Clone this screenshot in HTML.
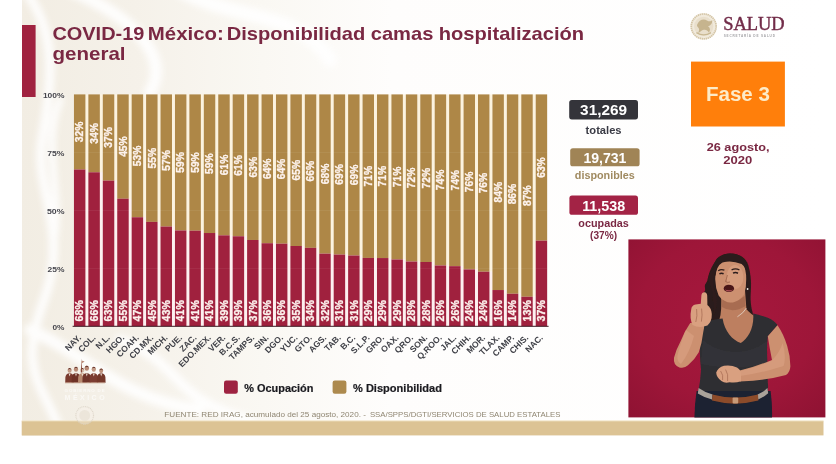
<!DOCTYPE html>
<html lang="es">
<head>
<meta charset="utf-8">
<title>COVID-19 México: Disponibilidad camas hospitalización general</title>
<style>
html,body{margin:0;padding:0;background:#fff;}
body{width:836px;height:464px;overflow:hidden;position:relative;font-family:'Liberation Sans', sans-serif;}
svg{position:absolute;left:0;top:0;display:block;}
text{font-family:'Liberation Sans', sans-serif;}
.b{font-weight:bold;}
.serif{font-family:'Liberation Serif', serif;}
</style>
</head>
<body>
<svg width="836" height="464" viewBox="0 0 836 464">
<defs>
  <filter id="blur6" x="-20%" y="-20%" width="140%" height="140%"><feGaussianBlur stdDeviation="3"/></filter>
  <filter id="blur1" x="-20%" y="-20%" width="140%" height="140%"><feGaussianBlur stdDeviation="0.6"/></filter>
  <filter id="blur05" x="-5%" y="-5%" width="110%" height="110%"><feGaussianBlur stdDeviation="0.35"/></filter>
  <radialGradient id="vbg" cx="50%" cy="45%" r="75%">
    <stop offset="0" stop-color="#a7183d"/>
    <stop offset="0.6" stop-color="#9e1639"/>
    <stop offset="1" stop-color="#8e1232"/>
  </radialGradient>
  <linearGradient id="slidebg" x1="0" y1="0" x2="1" y2="0">
    <stop offset="0" stop-color="#f2ede3"/>
    <stop offset="0.14" stop-color="#f5f1e9"/>
    <stop offset="0.30" stop-color="#faf8f3"/>
    <stop offset="0.46" stop-color="#fefdfc"/>
    <stop offset="1" stop-color="#ffffff"/>
  </linearGradient>
  <clipPath id="slideclip"><rect x="22" y="0" width="803" height="436"/></clipPath>
  <clipPath id="vidclip"><rect x="628.4" y="239.4" width="197" height="178"/></clipPath>
</defs>

<rect x="0" y="0" width="836" height="464" fill="#ffffff"/>
<rect x="22" y="0" width="803" height="436" fill="url(#slidebg)"/>
<g clip-path="url(#slideclip)" filter="url(#blur6)" fill="none" stroke="#ffffff" stroke-linecap="round" opacity="0.9">
<path d="M28 -5 C 60 40, 50 90, 42 140 S 70 230, 44 300 S 40 380, 60 430" stroke-width="9"/>
<path d="M60 100 C 40 150, 66 200, 52 250" stroke-width="7"/>
<path d="M70 -10 C 140 20, 170 60, 150 92" stroke-width="12"/>
<path d="M180 -10 C 230 20, 300 10, 330 60" stroke-width="14"/>
<path d="M30 330 C 80 350, 120 400, 200 410" stroke-width="12"/>
<path d="M120 340 C 180 360, 170 400, 250 420" stroke-width="10"/>
</g>
<rect x="21.7" y="420.8" width="801.8" height="14.6" fill="#dcc394"/><rect x="21.7" y="420.4" width="801.8" height="0.9" fill="#f6ead0"/>
<rect x="22" y="25" width="13.6" height="72" fill="#a0223f"/>
<text class="b" y="39.7" font-size="19" fill="#7a2843"><tspan x="52.4" textLength="92.0" lengthAdjust="spacingAndGlyphs">COVID-19</tspan> <tspan x="147.8" textLength="76.0" lengthAdjust="spacingAndGlyphs">México:</tspan> <tspan x="226.7" textLength="138.6" lengthAdjust="spacingAndGlyphs">Disponibilidad</tspan> <tspan x="370.7" textLength="62.7" lengthAdjust="spacingAndGlyphs">camas</tspan> <tspan x="438.8" textLength="145.3" lengthAdjust="spacingAndGlyphs">hospitalización</tspan> </text>
<text class="b" x="52.5" y="59.5" font-size="19" fill="#7a2843" textLength="73" lengthAdjust="spacingAndGlyphs">general</text>
<text class="b" x="42.9" y="97.5" font-size="8" fill="#46464d" textLength="21.6" lengthAdjust="spacingAndGlyphs">100%</text>
<text class="b" x="47.3" y="155.6" font-size="8" fill="#46464d" textLength="17.2" lengthAdjust="spacingAndGlyphs">75%</text>
<text class="b" x="46.9" y="213.7" font-size="8" fill="#46464d" textLength="17.6" lengthAdjust="spacingAndGlyphs">50%</text>
<text class="b" x="47.6" y="271.8" font-size="8" fill="#46464d" textLength="16.9" lengthAdjust="spacingAndGlyphs">25%</text>
<text class="b" x="52.5" y="329.9" font-size="8" fill="#46464d" textLength="12.0" lengthAdjust="spacingAndGlyphs">0%</text>
<g>
<rect x="85.40" y="94.4" width="2.98" height="75.10" fill="#fcf3df"/>
<rect x="85.40" y="169.50" width="2.98" height="156.70" fill="#fdf0f0"/>
<rect x="73.95" y="94.4" width="11.45" height="75.10" fill="#ae8747"/>
<rect x="73.95" y="169.50" width="11.45" height="156.70" fill="#a0213e"/>
<rect x="99.83" y="94.4" width="2.98" height="77.88" fill="#fcf3df"/>
<rect x="99.83" y="172.28" width="2.98" height="153.92" fill="#fdf0f0"/>
<rect x="88.38" y="94.4" width="11.45" height="77.88" fill="#ae8747"/>
<rect x="88.38" y="172.28" width="11.45" height="153.92" fill="#a0213e"/>
<rect x="114.26" y="94.4" width="2.98" height="86.23" fill="#fcf3df"/>
<rect x="114.26" y="180.63" width="2.98" height="145.57" fill="#fdf0f0"/>
<rect x="102.81" y="94.4" width="11.45" height="86.23" fill="#ae8747"/>
<rect x="102.81" y="180.63" width="11.45" height="145.57" fill="#a0213e"/>
<rect x="128.69" y="94.4" width="2.98" height="104.31" fill="#fcf3df"/>
<rect x="128.69" y="198.71" width="2.98" height="127.49" fill="#fdf0f0"/>
<rect x="117.24" y="94.4" width="11.45" height="104.31" fill="#ae8747"/>
<rect x="117.24" y="198.71" width="11.45" height="127.49" fill="#a0213e"/>
<rect x="143.12" y="94.4" width="2.98" height="122.85" fill="#fcf3df"/>
<rect x="143.12" y="217.25" width="2.98" height="108.95" fill="#fdf0f0"/>
<rect x="131.67" y="94.4" width="11.45" height="122.85" fill="#ae8747"/>
<rect x="131.67" y="217.25" width="11.45" height="108.95" fill="#a0213e"/>
<rect x="157.55" y="94.4" width="2.98" height="127.49" fill="#fcf3df"/>
<rect x="157.55" y="221.89" width="2.98" height="104.31" fill="#fdf0f0"/>
<rect x="146.10" y="94.4" width="11.45" height="127.49" fill="#ae8747"/>
<rect x="146.10" y="221.89" width="11.45" height="104.31" fill="#a0213e"/>
<rect x="171.98" y="94.4" width="2.98" height="132.13" fill="#fcf3df"/>
<rect x="171.98" y="226.53" width="2.98" height="99.67" fill="#fdf0f0"/>
<rect x="160.53" y="94.4" width="11.45" height="132.13" fill="#ae8747"/>
<rect x="160.53" y="226.53" width="11.45" height="99.67" fill="#a0213e"/>
<rect x="186.41" y="94.4" width="2.98" height="136.07" fill="#fcf3df"/>
<rect x="186.41" y="230.47" width="2.98" height="95.73" fill="#fdf0f0"/>
<rect x="174.96" y="94.4" width="11.45" height="136.07" fill="#ae8747"/>
<rect x="174.96" y="230.47" width="11.45" height="95.73" fill="#a0213e"/>
<rect x="200.84" y="94.4" width="2.98" height="136.30" fill="#fcf3df"/>
<rect x="200.84" y="230.70" width="2.98" height="95.50" fill="#fdf0f0"/>
<rect x="189.39" y="94.4" width="11.45" height="136.30" fill="#ae8747"/>
<rect x="189.39" y="230.70" width="11.45" height="95.50" fill="#a0213e"/>
<rect x="215.27" y="94.4" width="2.98" height="138.62" fill="#fcf3df"/>
<rect x="215.27" y="233.02" width="2.98" height="93.18" fill="#fdf0f0"/>
<rect x="203.82" y="94.4" width="11.45" height="138.62" fill="#ae8747"/>
<rect x="203.82" y="233.02" width="11.45" height="93.18" fill="#a0213e"/>
<rect x="229.70" y="94.4" width="2.98" height="140.93" fill="#fcf3df"/>
<rect x="229.70" y="235.33" width="2.98" height="90.87" fill="#fdf0f0"/>
<rect x="218.25" y="94.4" width="11.45" height="140.93" fill="#ae8747"/>
<rect x="218.25" y="235.33" width="11.45" height="90.87" fill="#a0213e"/>
<rect x="244.13" y="94.4" width="2.98" height="141.86" fill="#fcf3df"/>
<rect x="244.13" y="236.26" width="2.98" height="89.94" fill="#fdf0f0"/>
<rect x="232.68" y="94.4" width="11.45" height="141.86" fill="#ae8747"/>
<rect x="232.68" y="236.26" width="11.45" height="89.94" fill="#a0213e"/>
<rect x="258.56" y="94.4" width="2.98" height="145.57" fill="#fcf3df"/>
<rect x="258.56" y="239.97" width="2.98" height="86.23" fill="#fdf0f0"/>
<rect x="247.11" y="94.4" width="11.45" height="145.57" fill="#ae8747"/>
<rect x="247.11" y="239.97" width="11.45" height="86.23" fill="#a0213e"/>
<rect x="272.99" y="94.4" width="2.98" height="148.82" fill="#fcf3df"/>
<rect x="272.99" y="243.22" width="2.98" height="82.98" fill="#fdf0f0"/>
<rect x="261.54" y="94.4" width="11.45" height="148.82" fill="#ae8747"/>
<rect x="261.54" y="243.22" width="11.45" height="82.98" fill="#a0213e"/>
<rect x="287.42" y="94.4" width="2.98" height="149.28" fill="#fcf3df"/>
<rect x="287.42" y="243.68" width="2.98" height="82.52" fill="#fdf0f0"/>
<rect x="275.97" y="94.4" width="11.45" height="149.28" fill="#ae8747"/>
<rect x="275.97" y="243.68" width="11.45" height="82.52" fill="#a0213e"/>
<rect x="301.85" y="94.4" width="2.98" height="151.60" fill="#fcf3df"/>
<rect x="301.85" y="246.00" width="2.98" height="80.20" fill="#fdf0f0"/>
<rect x="290.40" y="94.4" width="11.45" height="151.60" fill="#ae8747"/>
<rect x="290.40" y="246.00" width="11.45" height="80.20" fill="#a0213e"/>
<rect x="316.28" y="94.4" width="2.98" height="153.45" fill="#fcf3df"/>
<rect x="316.28" y="247.85" width="2.98" height="78.35" fill="#fdf0f0"/>
<rect x="304.83" y="94.4" width="11.45" height="153.45" fill="#ae8747"/>
<rect x="304.83" y="247.85" width="11.45" height="78.35" fill="#a0213e"/>
<rect x="330.71" y="94.4" width="2.98" height="159.25" fill="#fcf3df"/>
<rect x="330.71" y="253.65" width="2.98" height="72.55" fill="#fdf0f0"/>
<rect x="319.26" y="94.4" width="11.45" height="159.25" fill="#ae8747"/>
<rect x="319.26" y="253.65" width="11.45" height="72.55" fill="#a0213e"/>
<rect x="345.14" y="94.4" width="2.98" height="160.17" fill="#fcf3df"/>
<rect x="345.14" y="254.57" width="2.98" height="71.63" fill="#fdf0f0"/>
<rect x="333.69" y="94.4" width="11.45" height="160.17" fill="#ae8747"/>
<rect x="333.69" y="254.57" width="11.45" height="71.63" fill="#a0213e"/>
<rect x="359.57" y="94.4" width="2.98" height="161.10" fill="#fcf3df"/>
<rect x="359.57" y="255.50" width="2.98" height="70.70" fill="#fdf0f0"/>
<rect x="348.12" y="94.4" width="11.45" height="161.10" fill="#ae8747"/>
<rect x="348.12" y="255.50" width="11.45" height="70.70" fill="#a0213e"/>
<rect x="374.00" y="94.4" width="2.98" height="163.53" fill="#fcf3df"/>
<rect x="374.00" y="257.93" width="2.98" height="68.27" fill="#fdf0f0"/>
<rect x="362.55" y="94.4" width="11.45" height="163.53" fill="#ae8747"/>
<rect x="362.55" y="257.93" width="11.45" height="68.27" fill="#a0213e"/>
<rect x="388.43" y="94.4" width="2.98" height="163.65" fill="#fcf3df"/>
<rect x="388.43" y="258.05" width="2.98" height="68.15" fill="#fdf0f0"/>
<rect x="376.98" y="94.4" width="11.45" height="163.65" fill="#ae8747"/>
<rect x="376.98" y="258.05" width="11.45" height="68.15" fill="#a0213e"/>
<rect x="402.86" y="94.4" width="2.98" height="165.04" fill="#fcf3df"/>
<rect x="402.86" y="259.44" width="2.98" height="66.76" fill="#fdf0f0"/>
<rect x="391.41" y="94.4" width="11.45" height="165.04" fill="#ae8747"/>
<rect x="391.41" y="259.44" width="11.45" height="66.76" fill="#a0213e"/>
<rect x="417.29" y="94.4" width="2.98" height="167.13" fill="#fcf3df"/>
<rect x="417.29" y="261.53" width="2.98" height="64.67" fill="#fdf0f0"/>
<rect x="405.84" y="94.4" width="11.45" height="167.13" fill="#ae8747"/>
<rect x="405.84" y="261.53" width="11.45" height="64.67" fill="#a0213e"/>
<rect x="431.72" y="94.4" width="2.98" height="167.59" fill="#fcf3df"/>
<rect x="431.72" y="261.99" width="2.98" height="64.21" fill="#fdf0f0"/>
<rect x="420.27" y="94.4" width="11.45" height="167.59" fill="#ae8747"/>
<rect x="420.27" y="261.99" width="11.45" height="64.21" fill="#a0213e"/>
<rect x="446.15" y="94.4" width="2.98" height="171.07" fill="#fcf3df"/>
<rect x="446.15" y="265.47" width="2.98" height="60.73" fill="#fdf0f0"/>
<rect x="434.70" y="94.4" width="11.45" height="171.07" fill="#ae8747"/>
<rect x="434.70" y="265.47" width="11.45" height="60.73" fill="#a0213e"/>
<rect x="460.58" y="94.4" width="2.98" height="171.76" fill="#fcf3df"/>
<rect x="460.58" y="266.16" width="2.98" height="60.04" fill="#fdf0f0"/>
<rect x="449.13" y="94.4" width="11.45" height="171.76" fill="#ae8747"/>
<rect x="449.13" y="266.16" width="11.45" height="60.04" fill="#a0213e"/>
<rect x="475.01" y="94.4" width="2.98" height="175.01" fill="#fcf3df"/>
<rect x="475.01" y="269.41" width="2.98" height="56.79" fill="#fdf0f0"/>
<rect x="463.56" y="94.4" width="11.45" height="175.01" fill="#ae8747"/>
<rect x="463.56" y="269.41" width="11.45" height="56.79" fill="#a0213e"/>
<rect x="489.44" y="94.4" width="2.98" height="177.33" fill="#fcf3df"/>
<rect x="489.44" y="271.73" width="2.98" height="54.47" fill="#fdf0f0"/>
<rect x="477.99" y="94.4" width="11.45" height="177.33" fill="#ae8747"/>
<rect x="477.99" y="271.73" width="11.45" height="54.47" fill="#a0213e"/>
<rect x="503.87" y="94.4" width="2.98" height="195.64" fill="#fcf3df"/>
<rect x="503.87" y="290.04" width="2.98" height="36.16" fill="#fdf0f0"/>
<rect x="492.42" y="94.4" width="11.45" height="195.64" fill="#ae8747"/>
<rect x="492.42" y="290.04" width="11.45" height="36.16" fill="#a0213e"/>
<rect x="518.30" y="94.4" width="2.98" height="199.35" fill="#fcf3df"/>
<rect x="518.30" y="293.75" width="2.98" height="32.45" fill="#fdf0f0"/>
<rect x="506.85" y="94.4" width="11.45" height="199.35" fill="#ae8747"/>
<rect x="506.85" y="293.75" width="11.45" height="32.45" fill="#a0213e"/>
<rect x="532.73" y="94.4" width="2.98" height="202.36" fill="#fcf3df"/>
<rect x="532.73" y="296.76" width="2.98" height="29.44" fill="#fdf0f0"/>
<rect x="521.28" y="94.4" width="11.45" height="202.36" fill="#ae8747"/>
<rect x="521.28" y="296.76" width="11.45" height="29.44" fill="#a0213e"/>
<rect x="535.71" y="94.4" width="11.45" height="146.27" fill="#ae8747"/>
<rect x="535.71" y="240.67" width="11.45" height="85.53" fill="#a0213e"/>
</g>
<rect x="72.6" y="325.8" width="476" height="1.0" fill="#3c1a24"/>
<rect x="73.9" y="152.05" width="473" height="0.6" fill="#ffffff" opacity="0.10"/>
<rect x="73.9" y="210.00" width="473" height="0.6" fill="#ffffff" opacity="0.10"/>
<rect x="73.9" y="267.95" width="473" height="0.6" fill="#ffffff" opacity="0.10"/>
<g class="b" font-size="10" fill="#fdf3ee" stroke="#fdf3ee" stroke-width="0.32">
<text transform="translate(83.38 321.4) rotate(-90)" textLength="21.2" lengthAdjust="spacingAndGlyphs">68%</text>
<text transform="translate(83.38 131.95) rotate(-90)" text-anchor="middle" textLength="20.6" lengthAdjust="spacingAndGlyphs">32%</text>
<text transform="translate(97.80 321.4) rotate(-90)" textLength="21.2" lengthAdjust="spacingAndGlyphs">66%</text>
<text transform="translate(97.80 133.34) rotate(-90)" text-anchor="middle" textLength="20.6" lengthAdjust="spacingAndGlyphs">34%</text>
<text transform="translate(112.23 321.4) rotate(-90)" textLength="21.2" lengthAdjust="spacingAndGlyphs">63%</text>
<text transform="translate(112.23 137.51) rotate(-90)" text-anchor="middle" textLength="20.6" lengthAdjust="spacingAndGlyphs">37%</text>
<text transform="translate(126.67 321.4) rotate(-90)" textLength="21.2" lengthAdjust="spacingAndGlyphs">55%</text>
<text transform="translate(126.67 146.56) rotate(-90)" text-anchor="middle" textLength="20.6" lengthAdjust="spacingAndGlyphs">45%</text>
<text transform="translate(141.09 321.4) rotate(-90)" textLength="21.2" lengthAdjust="spacingAndGlyphs">47%</text>
<text transform="translate(141.09 155.83) rotate(-90)" text-anchor="middle" textLength="20.6" lengthAdjust="spacingAndGlyphs">53%</text>
<text transform="translate(155.53 321.4) rotate(-90)" textLength="21.2" lengthAdjust="spacingAndGlyphs">45%</text>
<text transform="translate(155.53 158.14) rotate(-90)" text-anchor="middle" textLength="20.6" lengthAdjust="spacingAndGlyphs">55%</text>
<text transform="translate(169.95 321.4) rotate(-90)" textLength="21.2" lengthAdjust="spacingAndGlyphs">43%</text>
<text transform="translate(169.95 160.46) rotate(-90)" text-anchor="middle" textLength="20.6" lengthAdjust="spacingAndGlyphs">57%</text>
<text transform="translate(184.38 321.4) rotate(-90)" textLength="21.2" lengthAdjust="spacingAndGlyphs">41%</text>
<text transform="translate(184.38 162.43) rotate(-90)" text-anchor="middle" textLength="20.6" lengthAdjust="spacingAndGlyphs">59%</text>
<text transform="translate(198.81 321.4) rotate(-90)" textLength="21.2" lengthAdjust="spacingAndGlyphs">41%</text>
<text transform="translate(198.81 162.55) rotate(-90)" text-anchor="middle" textLength="20.6" lengthAdjust="spacingAndGlyphs">59%</text>
<text transform="translate(213.24 321.4) rotate(-90)" textLength="21.2" lengthAdjust="spacingAndGlyphs">41%</text>
<text transform="translate(213.24 163.71) rotate(-90)" text-anchor="middle" textLength="20.6" lengthAdjust="spacingAndGlyphs">59%</text>
<text transform="translate(227.67 321.4) rotate(-90)" textLength="21.2" lengthAdjust="spacingAndGlyphs">39%</text>
<text transform="translate(227.67 164.87) rotate(-90)" text-anchor="middle" textLength="20.6" lengthAdjust="spacingAndGlyphs">61%</text>
<text transform="translate(242.10 321.4) rotate(-90)" textLength="21.2" lengthAdjust="spacingAndGlyphs">39%</text>
<text transform="translate(242.10 165.33) rotate(-90)" text-anchor="middle" textLength="20.6" lengthAdjust="spacingAndGlyphs">61%</text>
<text transform="translate(256.54 321.4) rotate(-90)" textLength="21.2" lengthAdjust="spacingAndGlyphs">37%</text>
<text transform="translate(256.54 167.19) rotate(-90)" text-anchor="middle" textLength="20.6" lengthAdjust="spacingAndGlyphs">63%</text>
<text transform="translate(270.97 321.4) rotate(-90)" textLength="21.2" lengthAdjust="spacingAndGlyphs">36%</text>
<text transform="translate(270.97 168.81) rotate(-90)" text-anchor="middle" textLength="20.6" lengthAdjust="spacingAndGlyphs">64%</text>
<text transform="translate(285.39 321.4) rotate(-90)" textLength="21.2" lengthAdjust="spacingAndGlyphs">36%</text>
<text transform="translate(285.39 169.04) rotate(-90)" text-anchor="middle" textLength="20.6" lengthAdjust="spacingAndGlyphs">64%</text>
<text transform="translate(299.82 321.4) rotate(-90)" textLength="21.2" lengthAdjust="spacingAndGlyphs">35%</text>
<text transform="translate(299.82 170.20) rotate(-90)" text-anchor="middle" textLength="20.6" lengthAdjust="spacingAndGlyphs">65%</text>
<text transform="translate(314.25 321.4) rotate(-90)" textLength="21.2" lengthAdjust="spacingAndGlyphs">34%</text>
<text transform="translate(314.25 171.13) rotate(-90)" text-anchor="middle" textLength="20.6" lengthAdjust="spacingAndGlyphs">66%</text>
<text transform="translate(328.69 321.4) rotate(-90)" textLength="21.2" lengthAdjust="spacingAndGlyphs">32%</text>
<text transform="translate(328.69 174.02) rotate(-90)" text-anchor="middle" textLength="20.6" lengthAdjust="spacingAndGlyphs">68%</text>
<text transform="translate(343.12 321.4) rotate(-90)" textLength="21.2" lengthAdjust="spacingAndGlyphs">31%</text>
<text transform="translate(343.12 174.49) rotate(-90)" text-anchor="middle" textLength="20.6" lengthAdjust="spacingAndGlyphs">69%</text>
<text transform="translate(357.55 321.4) rotate(-90)" textLength="21.2" lengthAdjust="spacingAndGlyphs">31%</text>
<text transform="translate(357.55 174.95) rotate(-90)" text-anchor="middle" textLength="20.6" lengthAdjust="spacingAndGlyphs">69%</text>
<text transform="translate(371.98 321.4) rotate(-90)" textLength="21.2" lengthAdjust="spacingAndGlyphs">29%</text>
<text transform="translate(371.98 176.17) rotate(-90)" text-anchor="middle" textLength="20.6" lengthAdjust="spacingAndGlyphs">71%</text>
<text transform="translate(386.40 321.4) rotate(-90)" textLength="21.2" lengthAdjust="spacingAndGlyphs">29%</text>
<text transform="translate(386.40 176.23) rotate(-90)" text-anchor="middle" textLength="20.6" lengthAdjust="spacingAndGlyphs">71%</text>
<text transform="translate(400.83 321.4) rotate(-90)" textLength="21.2" lengthAdjust="spacingAndGlyphs">29%</text>
<text transform="translate(400.83 176.92) rotate(-90)" text-anchor="middle" textLength="20.6" lengthAdjust="spacingAndGlyphs">71%</text>
<text transform="translate(415.26 321.4) rotate(-90)" textLength="21.2" lengthAdjust="spacingAndGlyphs">28%</text>
<text transform="translate(415.26 177.96) rotate(-90)" text-anchor="middle" textLength="20.6" lengthAdjust="spacingAndGlyphs">72%</text>
<text transform="translate(429.69 321.4) rotate(-90)" textLength="21.2" lengthAdjust="spacingAndGlyphs">28%</text>
<text transform="translate(429.69 178.20) rotate(-90)" text-anchor="middle" textLength="20.6" lengthAdjust="spacingAndGlyphs">72%</text>
<text transform="translate(444.12 321.4) rotate(-90)" textLength="21.2" lengthAdjust="spacingAndGlyphs">26%</text>
<text transform="translate(444.12 179.93) rotate(-90)" text-anchor="middle" textLength="20.6" lengthAdjust="spacingAndGlyphs">74%</text>
<text transform="translate(458.56 321.4) rotate(-90)" textLength="21.2" lengthAdjust="spacingAndGlyphs">26%</text>
<text transform="translate(458.56 180.28) rotate(-90)" text-anchor="middle" textLength="20.6" lengthAdjust="spacingAndGlyphs">74%</text>
<text transform="translate(472.99 321.4) rotate(-90)" textLength="21.2" lengthAdjust="spacingAndGlyphs">24%</text>
<text transform="translate(472.99 181.90) rotate(-90)" text-anchor="middle" textLength="20.6" lengthAdjust="spacingAndGlyphs">76%</text>
<text transform="translate(487.41 321.4) rotate(-90)" textLength="21.2" lengthAdjust="spacingAndGlyphs">24%</text>
<text transform="translate(487.41 183.06) rotate(-90)" text-anchor="middle" textLength="20.6" lengthAdjust="spacingAndGlyphs">76%</text>
<text transform="translate(501.84 321.4) rotate(-90)" textLength="21.2" lengthAdjust="spacingAndGlyphs">16%</text>
<text transform="translate(501.84 192.22) rotate(-90)" text-anchor="middle" textLength="20.6" lengthAdjust="spacingAndGlyphs">84%</text>
<text transform="translate(516.27 321.4) rotate(-90)" textLength="21.2" lengthAdjust="spacingAndGlyphs">14%</text>
<text transform="translate(516.27 194.07) rotate(-90)" text-anchor="middle" textLength="20.6" lengthAdjust="spacingAndGlyphs">86%</text>
<text transform="translate(530.71 321.4) rotate(-90)" textLength="21.2" lengthAdjust="spacingAndGlyphs">13%</text>
<text transform="translate(530.71 195.58) rotate(-90)" text-anchor="middle" textLength="20.6" lengthAdjust="spacingAndGlyphs">87%</text>
<text transform="translate(545.14 321.4) rotate(-90)" textLength="21.2" lengthAdjust="spacingAndGlyphs">37%</text>
<text transform="translate(545.14 167.53) rotate(-90)" text-anchor="middle" textLength="20.6" lengthAdjust="spacingAndGlyphs">63%</text>
</g>
<g class="b" font-size="8.55" fill="#3f4047" text-anchor="end">
<text transform="translate(81.67 338.2) rotate(-45) scale(1.0 1)">NAY.</text>
<text transform="translate(96.10 338.2) rotate(-45) scale(1.0 1)">COL.</text>
<text transform="translate(110.53 338.2) rotate(-45) scale(1.0 1)">N.L.</text>
<text transform="translate(124.97 338.2) rotate(-45) scale(1.0 1)">HGO.</text>
<text transform="translate(139.40 338.2) rotate(-45) scale(1.0 1)">COAH.</text>
<text transform="translate(153.83 338.2) rotate(-45) scale(1.0 1)">CD.MX.</text>
<text transform="translate(168.25 338.2) rotate(-45) scale(1.0 1)">MICH.</text>
<text transform="translate(182.68 338.2) rotate(-45) scale(1.0 1)">PUE.</text>
<text transform="translate(197.11 338.2) rotate(-45) scale(1.0 1)">ZAC.</text>
<text transform="translate(211.54 338.2) rotate(-45) scale(1.0 1)">EDO.MEX.</text>
<text transform="translate(225.97 338.2) rotate(-45) scale(1.0 1)">VER.</text>
<text transform="translate(240.41 338.2) rotate(-45) scale(1.0 1)">B.C.S.</text>
<text transform="translate(254.84 338.2) rotate(-45) scale(1.0 1)">TAMPS.</text>
<text transform="translate(269.27 338.2) rotate(-45) scale(1.0 1)">SIN.</text>
<text transform="translate(283.69 338.2) rotate(-45) scale(1.0 1)">DGO.</text>
<text transform="translate(298.12 338.2) rotate(-45) scale(1.0 1)">YUC.</text>
<text transform="translate(312.56 338.2) rotate(-45) scale(1.0 1)">GTO.</text>
<text transform="translate(326.99 338.2) rotate(-45) scale(1.0 1)">AGS.</text>
<text transform="translate(341.42 338.2) rotate(-45) scale(1.0 1)">TAB.</text>
<text transform="translate(355.85 338.2) rotate(-45) scale(1.0 1)">B.C.</text>
<text transform="translate(370.28 338.2) rotate(-45) scale(1.0 1)">S.L.P.</text>
<text transform="translate(384.70 338.2) rotate(-45) scale(1.0 1)">GRO.</text>
<text transform="translate(399.13 338.2) rotate(-45) scale(1.0 1)">OAX.</text>
<text transform="translate(413.56 338.2) rotate(-45) scale(1.0 1)">QRO.</text>
<text transform="translate(428.00 338.2) rotate(-45) scale(1.0 1)">SON.</text>
<text transform="translate(442.43 338.2) rotate(-45) scale(1.0 1)">Q.ROO.</text>
<text transform="translate(456.86 338.2) rotate(-45) scale(1.0 1)">JAL.</text>
<text transform="translate(471.29 338.2) rotate(-45) scale(1.0 1)">CHIH.</text>
<text transform="translate(485.71 338.2) rotate(-45) scale(1.0 1)">MOR.</text>
<text transform="translate(500.14 338.2) rotate(-45) scale(1.0 1)">TLAX.</text>
<text transform="translate(514.57 338.2) rotate(-45) scale(1.0 1)">CAMP.</text>
<text transform="translate(529.00 338.2) rotate(-45) scale(1.0 1)">CHIS.</text>
<text transform="translate(543.44 338.2) rotate(-45) scale(1.0 1)">NAC.</text>
</g>
<rect x="224" y="380.5" width="13.8" height="13.3" rx="2.2" fill="#9e2341"/>
<text class="b" x="244.2" y="392" font-size="10.8" fill="#1a1a1f" stroke="#1a1a1f" stroke-width="0.2" textLength="69.3" lengthAdjust="spacingAndGlyphs">% Ocupación</text>
<rect x="332.6" y="380.5" width="13.8" height="13.3" rx="2.2" fill="#ad8a4e"/>
<text class="b" x="353" y="392" font-size="10.8" fill="#1a1a1f" stroke="#1a1a1f" stroke-width="0.2" textLength="89" lengthAdjust="spacingAndGlyphs">% Disponibilidad</text>
<text y="416.8" font-size="7.7" fill="#8f8672"><tspan x="164.3" textLength="201.6" lengthAdjust="spacingAndGlyphs">FUENTE: RED IRAG, acumulado del 25 agosto, 2020. -</tspan> <tspan x="369.9" textLength="190.5" lengthAdjust="spacingAndGlyphs">SSA/SPPS/DGTI/SERVICIOS DE SALUD ESTATALES</tspan></text>
<rect x="569.2" y="100.1" width="68.8" height="19.3" rx="2.6" fill="#34343a"/>
<text class="b" x="603.6" y="115.0" font-size="15.2" fill="#ffffff" text-anchor="middle" textLength="47" lengthAdjust="spacingAndGlyphs">31,269</text>
<text class="b" x="603.6" y="133.9" font-size="10.2" fill="#3a3b45" text-anchor="middle" textLength="36" lengthAdjust="spacingAndGlyphs">totales</text>
<rect x="570.2" y="148.2" width="69.4" height="18.1" rx="2.6" fill="#a08456"/>
<text class="b" x="604.9" y="162.6" font-size="15.2" fill="#ffffff" text-anchor="middle" textLength="43" lengthAdjust="spacingAndGlyphs">19,731</text>
<text class="b" x="604.8" y="179" font-size="10.2" fill="#a08a60" text-anchor="middle" textLength="60" lengthAdjust="spacingAndGlyphs">disponibles</text>
<rect x="569.4" y="195.6" width="68.6" height="19.2" rx="2.6" fill="#a32345"/>
<text class="b" x="603.7" y="210.5" font-size="15.2" fill="#ffffff" text-anchor="middle" textLength="43" lengthAdjust="spacingAndGlyphs">11,538</text>
<text class="b" x="603.6" y="226.8" font-size="10" fill="#7a2843" text-anchor="middle" textLength="50.5" lengthAdjust="spacingAndGlyphs">ocupadas</text>
<text class="b" x="603.6" y="238.6" font-size="10" fill="#7a2843" text-anchor="middle" textLength="27" lengthAdjust="spacingAndGlyphs">(37%)</text>
<g>
<circle cx="703.7" cy="26.4" r="13.2" fill="#f1eadc"/>
<circle cx="703.7" cy="26.4" r="12.4" fill="none" stroke="#cfc0a0" stroke-width="1.7" stroke-dasharray="1.3 0.7" opacity="0.9"/>
<circle cx="703.7" cy="26.4" r="9.6" fill="#e9dfcc"/>
<path d="M697.2 24.6 c1.6 -4.6 6.2 -6.4 9.8 -4.2 c2.2 1.5 4 1 5.2 -0.4 c0.4 3.2 -1.4 5.6 -4.2 6.2 c2.4 1.4 2.6 4.2 0.8 6.4 c-1.2 -2.4 -3 -3.2 -5 -2.8 c-2.4 0.4 -3.6 2.8 -5.8 3 c1.4 -1.8 1.4 -3.8 0.4 -5 c-1.4 -1.4 -1.6 -2.4 -1.2 -3.2z" fill="#c6b48e"/>
<path d="M696.4 32.6 q7.3 4.6 14.6 0" fill="none" stroke="#c9b892" stroke-width="1.4"/>
</g>
<text class="serif" x="723.2" y="29.5" font-size="18.4" fill="#722c49" textLength="61.4" lengthAdjust="spacingAndGlyphs" stroke="#722c49" stroke-width="0.45">SALUD</text>
<text class="b" x="723.7" y="37.1" font-size="3.1" fill="#a3a3a6" textLength="51.2" lengthAdjust="spacing">SECRETARÍA DE SALUD</text>
<rect x="691" y="61.6" width="93.9" height="64.9" fill="#ff7f0b"/>
<text class="b" x="737.9" y="101.2" font-size="19.4" fill="#fdebc8" text-anchor="middle" textLength="64" lengthAdjust="spacingAndGlyphs">Fase 3</text>
<text class="b" x="738.1" y="150.6" font-size="10.4" fill="#7a2843" text-anchor="middle" textLength="62.8" lengthAdjust="spacingAndGlyphs">26 agosto,</text>
<text class="b" x="737.7" y="163.7" font-size="10.4" fill="#7a2843" text-anchor="middle" textLength="29" lengthAdjust="spacingAndGlyphs">2020</text>
<g filter="url(#blur05)">
<path d="M65.2 382.8 L65.4 377 Q66.0 373.4 69.6 373 Q73.2 373.4 73.8 377 L74.0 382.8Z" fill="#7a3a2e"/>
<ellipse cx="69.6" cy="370.4" rx="2.0" ry="2.40" fill="#c39a86"/>
<path d="M67.6 370.0 Q69.6 366.2 71.6 370.0 Q69.6 368.2 67.6 370.0Z" fill="#5c2a22"/>
<path d="M68.7 373.4 L69.6 376.4 L70.5 373.4Z" fill="#efe3d6"/>
<path d="M71.6 382.8 L71.8 377 Q72.4 373.4 76.0 373 Q79.6 373.4 80.2 377 L80.4 382.8Z" fill="#6e3227"/>
<ellipse cx="76.0" cy="369.2" rx="2.1" ry="2.52" fill="#b98a76"/>
<path d="M73.9 368.8 Q76.0 364.8 78.1 368.8 Q76.0 366.9 73.9 368.8Z" fill="#5c2a22"/>
<path d="M75.1 373.4 L76.0 376.4 L76.9 373.4Z" fill="#efe3d6"/>
<path d="M78.0 382.8 L78.2 377 Q78.8 373.4 82.4 373 Q86.0 373.4 86.6 377 L86.8 382.8Z" fill="#b88a70"/>
<ellipse cx="82.4" cy="370.2" rx="1.9" ry="2.28" fill="#d9c0ae"/>
<path d="M80.5 369.8 Q82.4 366.2 84.3 369.8 Q82.4 368.1 80.5 369.8Z" fill="#5c2a22"/>
<path d="M81.5 373.4 L82.4 376.4 L83.3 373.4Z" fill="#efe3d6"/>
<path d="M82.4 382.8 L82.6 377 Q83.2 373.4 86.8 373 Q90.4 373.4 91.0 377 L91.2 382.8Z" fill="#70342a"/>
<ellipse cx="86.8" cy="368.2" rx="2.2" ry="2.64" fill="#b98a76"/>
<path d="M84.6 367.8 Q86.8 363.6 89.0 367.8 Q86.8 365.8 84.6 367.8Z" fill="#5c2a22"/>
<path d="M85.9 373.4 L86.8 376.4 L87.7 373.4Z" fill="#efe3d6"/>
<path d="M89.4 382.8 L89.6 377 Q90.2 373.4 93.8 373 Q97.4 373.4 98.0 377 L98.2 382.8Z" fill="#7c3d30"/>
<ellipse cx="93.8" cy="369.2" rx="2.1" ry="2.52" fill="#c39a86"/>
<path d="M91.7 368.8 Q93.8 364.8 95.9 368.8 Q93.8 366.9 91.7 368.8Z" fill="#5c2a22"/>
<path d="M92.9 373.4 L93.8 376.4 L94.7 373.4Z" fill="#efe3d6"/>
<path d="M96.8 382.8 L97.0 377 Q97.6 373.4 101.2 373 Q104.8 373.4 105.4 377 L105.6 382.8Z" fill="#74372c"/>
<ellipse cx="101.2" cy="370.8" rx="2.0" ry="2.40" fill="#bd917c"/>
<path d="M99.2 370.4 Q101.2 366.6 103.2 370.4 Q101.2 368.6 99.2 370.4Z" fill="#5c2a22"/>
<path d="M100.3 373.4 L101.2 376.4 L102.1 373.4Z" fill="#efe3d6"/>
<path d="M80.8 372.6 L81.4 358.8 L82.2 372.6Z" fill="#8a4a3a"/>
<path d="M81.6 360.4 L84.6 361.6 L81.6 363.4Z" fill="#b98a76"/>
<rect x="65" y="382.5" width="40" height="0.8" fill="#c9a892"/>
</g>
<text class="b" x="84.6" y="392.4" font-size="4.4" fill="#ffffff" text-anchor="middle" textLength="40" lengthAdjust="spacing" opacity="0.6">GOBIERNO DE</text>
<text class="b" x="84.6" y="399.8" font-size="7" fill="#ffffff" text-anchor="middle" textLength="40" lengthAdjust="spacing" opacity="0.6">MÉXICO</text>
<circle cx="84.7" cy="415.4" r="9" fill="#f6f1e8" opacity="0.35"/>
<circle cx="84.7" cy="415.4" r="8.8" fill="none" stroke="#d9d2c4" stroke-width="1.2" stroke-dasharray="1 0.8" opacity="0.75"/>
<circle cx="84.7" cy="415.4" r="5.4" fill="#e3dccd" opacity="0.5"/>
<rect x="628.4" y="239.4" width="197" height="178" fill="url(#vbg)"/>
<g clip-path="url(#vidclip)" filter="url(#blur1)">
<path d="M715.2 261.5 C717 256.5 724 253.4 730.5 253.5 C739 253.6 746 257.5 748.4 265.4 C750.6 273 751.4 281 751 288 C750.6 296 750 303 752.5 312 L754 320 L708 322 C710 318 711.6 316 711.3 313.9 C707.6 310.5 704.6 305.5 704.5 298 C704.4 292 706.6 286 707.5 280.9 C708.3 274 711.4 266.5 715.2 261.5Z" fill="#2b1c1a"/>
<path d="M721 292 L745 290 L746.4 309 Q750 314 757 317 L755 330 L741 345 L727 339 L720.6 327 L719.5 319 Q722 312 721 292Z" fill="#bd7f60"/>
<path d="M722.4 299 Q731 306.5 744.6 296 L745.6 306 Q733 314 721.8 307Z" fill="#a3684e" opacity="0.8"/>
<path d="M722.6 318.6 Q713 319.6 707 321.4 Q702.6 327 702 333 Q699.4 343 699.9 352.3 Q700 361 701 369.6 Q700.6 380 698.2 392.5 L767.6 392.5 Q768.4 386 767.8 382.5 L767 350 Q767 343 767.8 336.4 L777.6 325 Q772 318.4 764 316.6 Q758 314.6 753.2 313.6 C754.4 328 748 338.6 740.8 343 C732.6 340.6 724.4 331 722.6 318.6Z" fill="#2e2e32"/>
<path d="M703 340 Q716 352 737 352 Q756 351 766.6 341 L767 362 Q740 372 701 364Z" fill="#34343a" opacity="0.7"/>
<path d="M696.6 391 L770.6 391 Q772.4 404 772 418 L694.4 418 Q694.6 404 696.6 391Z" fill="#1b2030"/>
<path d="M698.6 388 Q705 392.4 712.6 394.6 L712 399.4 Q704 397.4 697.8 393.4Z M767.4 388 Q763 392.6 757.6 394.6 L758.2 399.4 Q764 397.2 768.2 393.2Z" fill="#a9a29a"/>
<path d="M712.4 394.4 Q735 400.6 758 394.4 L758.4 400.6 Q735 406.8 712 400.6Z" fill="#8c4b2c"/>
<rect x="732.6" y="397.4" width="5.6" height="6.2" rx="1" fill="#c79a78"/>
<path d="M719 263 Q730 258.6 742.4 261.8 Q746.4 270 746.2 279 Q746.4 288 744.2 294.6 Q739.6 301 733 302.4 Q728 303 725 301 Q720.6 299 718.6 295.6 Q715.4 288 715.2 279 Q715.4 270 719 263Z" fill="#cc9070"/>
<ellipse cx="735" cy="277" rx="8.4" ry="12" fill="#d9a080" opacity="0.75"/>
<path d="M715.4 276 Q716.6 266 722.4 262.6 Q731 259.6 741.6 264 Q745.6 267 746.4 272 Q748.6 264 744 258.6 Q737 253 729 253.6 Q719 254.4 714.6 262.6 Q711 270 715.4 276Z" fill="#2b1c1a"/>
<path d="M716.2 268 Q713 276 713.4 284 Q713.8 292 716.6 297.6 Q717.6 306 714.4 314.4 L707 316 Q703.6 306 704.6 297 Q706 288 707.6 280 Q709.6 270 716.2 268Z" fill="#2e1f1c"/>
<path d="M708.6 280 Q703.4 284 705.4 290 Q701.6 295 704.2 301 Q702.6 307 707 311 Q705.6 315 709.6 318 L714 312 L712 290Z" fill="#2b1c1a"/>
<ellipse cx="728.9" cy="288.4" rx="5.2" ry="3.7" fill="#4a1519"/>
<path d="M724.6 289.6 Q729 293.4 733.4 289.4 Q729 291 724.6 289.6Z" fill="#b4545c"/>
<path d="M718.2 270.8 Q721 269 724.4 270.2 M731.6 269.8 Q735.4 268 739.4 269.8" stroke="#2f1c1a" stroke-width="1.3" fill="none"/>
<path d="M719.4 273.8 Q721.4 272.8 723.6 273.8 M733 273.2 Q735.4 272 738 273.2" stroke="#2a1a1a" stroke-width="1.5" fill="none"/>
<path d="M727.4 275 Q726.2 279.6 725.6 281.6 Q727.6 283 730 282" stroke="#a2684e" stroke-width="0.9" fill="none"/>
<circle cx="747.6" cy="289" r="0.9" fill="#f0ece6"/>
<path d="M737.4 316.8 Q743.6 313 746.4 308" stroke="#e9e3da" stroke-width="0.7" fill="none"/>
<path d="M690.2 323 Q684 332 680.5 341.6 Q676 350 674 357.7 Q673 365 679.4 367.4 Q684.6 368.6 688 365.3 Q694.6 360 698.8 352.3 Q702 343 703.1 333 Q704.4 328 704.2 322.6Z" fill="#cc9070"/>
<path d="M686 330 Q680 344 677.4 356 Q677 362 681 364 Q690 352 694 336Z" fill="#d9a080" opacity="0.7"/>
<path d="M691.2 309.6 Q691.6 305.4 695.6 304.6 L700.8 303.8 L701.4 295.2 Q701.8 292.2 704.4 292.2 Q707 292.4 707.2 295.6 L707.4 305 Q711.4 308 711.8 314 Q712 321.6 707.4 325.6 Q699 328.6 692.6 325 Q689.4 318.6 691.2 309.6Z" fill="#d9a080"/>
<path d="M696.6 309 Q697.6 316 695.8 322 M701.6 308.6 Q702.6 315 701.4 321.6" stroke="#a96f55" stroke-width="0.8" fill="none"/>
<path d="M767.8 336.2 L777.5 325.2 Q783.6 334 787.2 345.9 Q790.4 356 790.4 366.3 Q790 372.4 786 375 Q764 381 739.7 381.6 L739.7 370.6 Q757 366.4 772 359.9 Q769.6 348 767.8 336.2Z" fill="#cc9070"/>
<path d="M772 360.4 Q757 367 740 371 L740 376 Q762 373 783.6 366 Q786.6 356 782.6 343 Q780 352 772 360.4Z" fill="#d9a080" opacity="0.7"/>
<path d="M716.2 372.6 Q718 367.6 724 365.8 Q731 364.6 737 367.6 Q740.6 369.6 741 374 L741 381.2 Q735 383.4 729.6 382.2 Q725 383.6 721.4 381 Q716.4 377.6 716.2 372.6Z" fill="#d9a080"/>
<path d="M720.6 371 Q723.6 375 722.6 380 M725.6 369.6 Q728.6 374 727.6 381" stroke="#a96f55" stroke-width="0.8" fill="none"/>
</g>
</svg>
</body>
</html>
